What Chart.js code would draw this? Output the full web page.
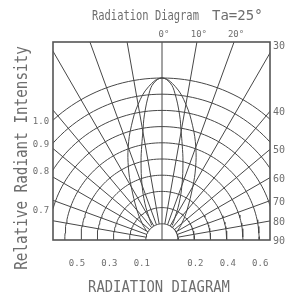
<!DOCTYPE html>
<html>
<head>
<meta charset="utf-8">
<script src="https://cdn.jsdelivr.net/npm/chart.js@4.4.1/dist/chart.umd.min.js"></script>
<style>
html, body { margin: 0; padding: 0; background: #fff; }
</style>
</head>
<body>
<canvas id="chart" width="285" height="295"></canvas>
<script>
// grid: relative intensity rings and angle spokes (degrees off axis)
const rings = [0.1, 0.2, 0.3, 0.4, 0.5, 0.6, 0.7, 0.8, 0.9, 1.0];
const spokes = [10, 20, 30, 40, 50, 60, 70, 80];

// radiation lobes: angle (deg) -> relative intensity
const outerAngles = [0, 5, 10, 15, 20, 25, 30, 40, 50, 60];
const outerValues = [1.0, 0.95, 0.85, 0.73, 0.61, 0.49, 0.38, 0.24, 0.16, 0.11];
const innerAngles = [0, 3, 5, 8, 10, 12, 15, 20, 25, 30, 35];
const innerValues = [1.0, 0.97, 0.91, 0.78, 0.68, 0.6, 0.5, 0.36, 0.25, 0.16, 0.11];

// labels
const topAngles = [0, 10, 20];
const topLabels = ['0°', '10°', '20°'];
const rightAngles = [30, 40, 50, 60, 70, 80, 90];
const rightLabels = ['30°', '40', '50', '60', '70', '80', '90'];
const leftTicks = [1.0, 0.9, 0.8, 0.7];
const leftLabels = ['1.0', '0.9', '0.8', '0.7'];
const bottomTicks = [-0.5, -0.3, -0.1, 0.2, 0.4, 0.6];
const bottomLabels = ['0.5', '0.3', '0.1', '0.2', '0.4', '0.6'];

const rad = d => d * Math.PI / 180;
const polar = (deg, r) => ({ x: r * Math.sin(rad(deg)), y: r * Math.cos(rad(deg)) });

const LINE = '#474747';
const datasets = [];

function addLine(points, tension) {
    datasets.push({
        data: points,
        showLine: true,
        borderColor: LINE,
        borderWidth: 1,
        pointRadius: 0,
        tension: tension || 0
    });
}

// rings
rings.forEach(r => {
    const pts = [];
    for (let a = -90; a <= 90; a += 2) pts.push(polar(a, r));
    addLine(pts);
});

// spokes, starting at the innermost ring
spokes.forEach(a => {
    [-1, 1].forEach(s => addLine([polar(s * a, rings[0]), polar(s * a, 2)]));
});
addLine([{ x: 0, y: 0 }, { x: 0, y: 2 }]);

// lobes, mirrored left/right
function lobe(angles, values) {
    const pts = [];
    for (let i = angles.length - 1; i > 0; i--) pts.push(polar(-angles[i], values[i]));
    for (let i = 0; i < angles.length; i++) pts.push(polar(angles[i], values[i]));
    return pts;
}
addLine(lobe(outerAngles, outerValues), 0.4);
addLine(lobe(innerAngles, innerValues), 0.4);

const FONT = '"DejaVu Sans Mono", "Liberation Mono", monospace';
const TEXT = '#6e6e6e';

function text(ctx, str, x, y, size, align, sx, sy, rot) {
    ctx.save();
    ctx.translate(x, y);
    if (rot) ctx.rotate(rot);
    ctx.scale(sx, sy);
    ctx.font = size + 'px ' + FONT;
    ctx.fillStyle = TEXT;
    ctx.textAlign = align;
    ctx.textBaseline = 'alphabetic';
    ctx.fillText(str, 0, 0);
    ctx.restore();
}

const frame = {
    id: 'frame',
    afterDraw(chart) {
        const ctx = chart.ctx;
        const area = chart.chartArea;
        const xs = chart.scales.x, ys = chart.scales.y;
        const x0 = xs.getPixelForValue(0), y0 = ys.getPixelForValue(0);
        const unit = xs.getPixelForValue(1) - x0;

        ctx.save();
        ctx.strokeStyle = '#555';
        ctx.lineWidth = 1.6;
        ctx.strokeRect(area.left, area.top, area.right - area.left, area.bottom - area.top);
        ctx.restore();

        // titles
        text(ctx, 'Radiation Diagram', 92, 20, 11, 'left', 0.95, 1.25);
        text(ctx, 'Ta=25°', 212, 20, 14, 'left', 1.0, 1.05);
        text(ctx, 'RADIATION DIAGRAM', 159, 292, 14, 'center', 0.99, 1.18);
        text(ctx, 'Relative Radiant Intensity', 27, 158, 14, 'center', 1.02, 1.27, -Math.PI / 2);

        // angle labels along the top edge
        topAngles.forEach((a, i) => {
            const dy = y0 - area.top;
            const x = x0 + dy * Math.tan(rad(a));
            text(ctx, topLabels[i], x + 2, area.top - 5, 9, 'center', 1, 1);
        });

        // angle labels along the right edge
        rightAngles.forEach((a, i) => {
            const dx = area.right - x0;
            let y = a === 90 ? y0 : y0 - dx / Math.tan(rad(a));
            if (i === 0) y = area.top + 3;
            text(ctx, rightLabels[i], area.right + 3, y + 4, 10, 'left', 1, 1);
        });

        // intensity labels where rings meet the left edge
        leftTicks.forEach((v, i) => {
            const dx = x0 - area.left;
            const r = v * unit;
            const y = y0 - Math.sqrt(Math.max(r * r - dx * dx, 0));
            text(ctx, leftLabels[i], 41, y + 4, 9, 'center', 1, 1);
        });

        // intensity labels under the baseline
        bottomTicks.forEach((v, i) => {
            const x = xs.getPixelForValue(v) + (v < 0 ? -4 : 1);
            text(ctx, bottomLabels[i], x, 266, 9, 'center', 1, 1);
        });
    }
};

new Chart(document.getElementById('chart'), {
    type: 'scatter',
    data: { datasets: datasets },
    options: {
        responsive: false,
        animation: false,
        layout: { padding: { left: 53, right: 15, top: 42, bottom: 55 } },
        scales: {
            x: { type: 'linear', display: false, min: -109 / 162, max: 108 / 162 },
            y: { type: 'linear', display: false, min: 0, max: 198 / 162 }
        },
        plugins: {
            legend: { display: false },
            tooltip: { enabled: false }
        }
    },
    plugins: [frame]
});
</script>
</body>
</html>
